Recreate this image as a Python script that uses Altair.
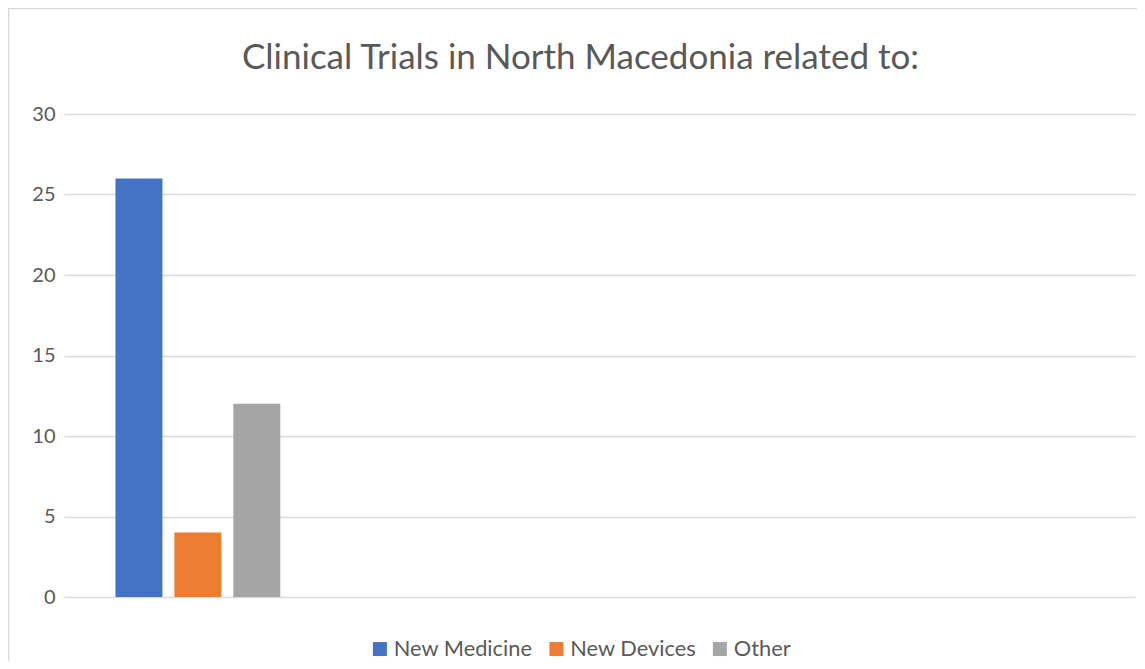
import altair as alt
import pandas as pd

title_text = "Clinical Trials in North Macedonia related to:"
categories = ["North Macedonia", "  ", "   ", "    "]
series = ["New Medicine", "New Devices", "Other"]
values = [26, 4, 12]
colors = ["#4472C4", "#ED7D31", "#A5A5A5"]

df = pd.DataFrame({
    "category": [categories[0]] * len(series),
    "series": series,
    "value": values,
})

FONT = "Lato"

bars = alt.Chart(df).mark_bar().encode(
    x=alt.X("category:N", scale=alt.Scale(domain=categories, paddingInner=0, paddingOuter=0), axis=None),
    xOffset=alt.XOffset("series:N", scale=alt.Scale(domain=series, paddingInner=0.203, paddingOuter=0.873)),
    y=alt.Y("value:Q", scale=alt.Scale(domain=[0, 30], nice=False),
            axis=alt.Axis(values=[0, 5, 10, 15, 20, 25, 30], title=None, domain=False, ticks=False,
                          labelPadding=9, labelFontSize=20, labelColor="#595959", labelFont=FONT,
                          gridColor="#D9D9D9", gridWidth=1.5)),
    color=alt.Color("series:N", scale=alt.Scale(domain=series, range=colors),
                    legend=alt.Legend(title=None, orient="none", direction="horizontal",
                                      legendX=305, legendY=524, symbolType="square",
                                      symbolSize=196, symbolStrokeWidth=0, labelFontSize=21.8,
                                      labelFont=FONT, labelColor="#595959", labelOffset=3,
                                      columnPadding=12.5, padding=0)),
)

border = alt.Chart(alt.Data(values=[{}])).mark_rect(
    fill=None, stroke="#D9D9D9", strokeWidth=1.5
).encode(
    x=alt.value(-55.5), x2=alt.value(1200), y=alt.value(-105.5), y2=alt.value(700)
)

title = alt.Chart(alt.Data(values=[{"t": title_text}])).mark_text(
    font=FONT, fontSize=35, color="#595959", align="center", baseline="alphabetic"
).encode(
    text="t:N", x=alt.value(516.5), y=alt.value(-45)
)

chart = alt.layer(border, title, bars).properties(
    width=1071,
    height=483,
    padding={"left": 56, "top": 106, "right": 2, "bottom": 64},
    autosize=alt.AutoSizeParams(type="none"),
).configure_view(stroke=None)

chart.save("out.html", embed_options={"renderer": "svg", "actions": False})
